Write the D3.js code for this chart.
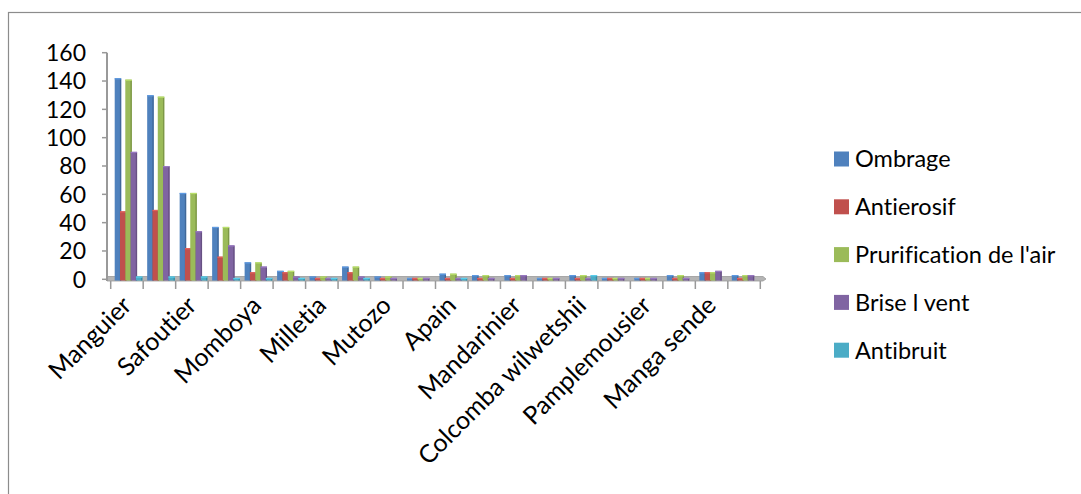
<!DOCTYPE html>
<html>
<head>
<meta charset="utf-8">
<script src="https://cdn.jsdelivr.net/npm/d3@7"></script>
<style>
  body { margin: 0; background: #fff; }
  svg { display: block; font-family: Lato, "Liberation Sans", sans-serif; font-variant-ligatures: none; }
</style>
</head>
<body>
<svg id="chart" width="1081" height="494"></svg>
<script>
// categories (only every other name is printed on the axis, as in the source)
const categories = ["Manguier", "", "Safoutier", "", "Momboya", "", "Milletia", "", "Mutozo", "",
                    "Apain", "", "Mandarinier", "", "Colcomba wilwetshii", "", "Pamplemousier", "", "Manga sende", ""];
const seriesNames = ["Ombrage", "Antierosif", "Prurification de l'air", "Brise l vent", "Antibruit"];
const colors = ["#4f81bd", "#c0504d", "#9bbb59", "#8064a2", "#4bacc6"];

const ombrage     = [142, 130, 61, 37, 12, 6, 2, 9, 2, 1, 4, 3, 3, 1, 3, 1, 1, 3, 5, 3];
const antierosif  = [48, 49, 22, 16, 5, 5, 1, 5, 1, 1, 1, 1, 1, 1, 1, 1, 1, 1, 5, 1];
const purification= [141, 129, 61, 37, 12, 6, 2, 9, 2, 1, 4, 3, 3, 1, 3, 1, 1, 3, 5, 3];
const briseVent   = [90, 80, 34, 24, 9, 2, 1, 2, 1, 1, 1, 1, 3, 1, 1, 1, 1, 1, 6, 3];
const antibruit   = [2, 2, 2, 1, 1, 1, 1, 1, 0, 0, 1, 0, 0, 0, 3, 0, 0, 0, 0, 0];
const series = [ombrage, antierosif, purification, briseVent, antibruit];

const yTicks = [0, 20, 40, 60, 80, 100, 120, 140, 160];

const svg = d3.select("#chart");

// outer frame (runs off the right and bottom of the picture)
svg.append("rect")
  .attr("x", 8.5).attr("y", 12.5)
  .attr("width", 1100).attr("height", 500)
  .attr("fill", "none").attr("stroke", "#8c8c8c").attr("stroke-width", 1.2);

const x0 = d3.scaleBand().domain(d3.range(categories.length)).range([110.7, 760.3]).paddingInner(0).paddingOuter(0);
const x1 = d3.scaleBand().domain(d3.range(series.length)).range([4, x0.bandwidth() - 2]).padding(0);
const y = d3.scaleLinear().domain([0, 160]).range([279.3, 52.7]);

// floor
svg.append("path")
  .attr("d", "M107,276.5 L763,276.5 L766,279 L763,281 L107,281 Z")
  .attr("fill", "#b4b4b4").attr("stroke", "#9a9a9a").attr("stroke-width", 0.8);

// y axis
const yAxis = svg.append("g");
yAxis.append("line")
  .attr("x1", 107).attr("x2", 107).attr("y1", y(160)).attr("y2", 281)
  .attr("stroke", "#999").attr("stroke-width", 2);
yAxis.selectAll(".yt").data(yTicks).enter().append("line")
  .attr("x1", 102).attr("x2", 107)
  .attr("y1", d => y(d)).attr("y2", d => y(d))
  .attr("stroke", "#999").attr("stroke-width", 1.5);
yAxis.selectAll(".yl").data(yTicks).enter().append("text")
  .attr("x", 86).attr("y", d => y(d))
  .attr("dy", "0.36em")
  .attr("text-anchor", "end")
  .attr("font-size", 23)
  .attr("fill", "#000")
  .text(d => d);

// x ticks at category boundaries
const bounds = d3.range(categories.length + 1).map(i => i === categories.length ? x0.range()[1] : x0(i));
svg.selectAll(".xt").data(bounds).enter().append("line")
  .attr("x1", d => d).attr("x2", d => d)
  .attr("y1", 281).attr("y2", 289)
  .attr("stroke", "#999").attr("stroke-width", 1.5);

// bars
const groups = svg.selectAll(".grp").data(categories.map((c, i) => i)).enter().append("g")
  .attr("transform", i => `translate(${x0(i)},0)`);

groups.selectAll("g.bar")
  .data(i => series.map((s, k) => ({ k: k, v: s[i] })).filter(d => d.v > 0))
  .enter().append("g")
  .each(function(d) {
    const g = d3.select(this);
    const bx = x1(d.k), bw = x1.bandwidth() + 1.2;
    const top = y(d.v), bottom = y(0) + 1.2;
    const c = d3.color(colors[d.k]);
    g.append("rect")
      .attr("x", bx).attr("y", top).attr("width", bw).attr("height", bottom - top)
      .attr("fill", colors[d.k]);
    // darker side and lighter top to suggest depth
    g.append("rect")
      .attr("x", bx + bw - 1.3).attr("y", top + 0.8).attr("width", 1.3).attr("height", Math.max(0, bottom - top - 0.8))
      .attr("fill", c.darker(0.6));
    g.append("rect")
      .attr("x", bx).attr("y", top).attr("width", bw).attr("height", Math.min(1.2, bottom - top))
      .attr("fill", c.brighter(0.5));
  });

// category labels, rotated
svg.selectAll(".xl").data(categories.map((c, i) => ({ c: c, i: i })).filter(d => d.c !== ""))
  .enter().append("text")
  .attr("transform", d => `translate(${x0(d.i) + x0.bandwidth() / 2 + 6},${307}) rotate(-45)`)
  .attr("text-anchor", "end")
  .attr("font-size", 25)
  .attr("fill", "#000")
  .text(d => d.c);

// legend
const legend = svg.append("g").attr("transform", "translate(834,159)");
const items = legend.selectAll("g").data(seriesNames).enter().append("g")
  .attr("transform", (d, i) => `translate(0,${i * 47.8})`);
items.append("rect")
  .attr("x", 0).attr("y", -7.5).attr("width", 15).attr("height", 15)
  .attr("fill", (d, i) => colors[i]);
items.append("text")
  .attr("x", 21).attr("y", 0).attr("dy", "0.36em")
  .attr("font-size", 23.5)
  .attr("fill", "#000")
  .text(d => d);
</script>
</body>
</html>
